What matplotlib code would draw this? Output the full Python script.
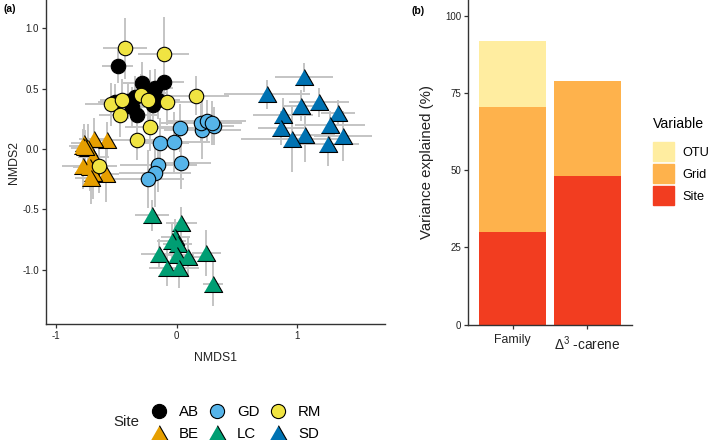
import matplotlib
matplotlib.use('Agg')
import matplotlib.pyplot as plt
from matplotlib.lines import Line2D
from matplotlib.patches import Patch

plt.rcParams['font.family'] = ['Liberation Sans', 'DejaVu Sans']
plt.rcParams['mathtext.fontset'] = 'custom'
plt.rcParams['mathtext.rm'] = 'Liberation Sans'

# panel a - NMDS scores with SE bars, one group of lists per site
ab_x = [-0.488, -0.284, -0.106, -0.178, -0.51, -0.372, -0.325, -0.198, -0.151, -0.344, -0.22, -0.40]
ab_y = [0.686, 0.545, 0.556, 0.504, 0.39, 0.351, 0.282, 0.365, 0.407, 0.434, 0.465, 0.40]
ab_xerr = [0.13, 0.16, 0.17, 0.15, 0.14, 0.14, 0.16, 0.17, 0.18, 0.14, 0.15, 0.13]
ab_yerr = [0.14, 0.18, 0.17, 0.16, 0.15, 0.16, 0.15, 0.17, 0.16, 0.17, 0.19, 0.15]

be_x = [-0.574, -0.682, -0.765, -0.773, -0.737, -0.69, -0.778, -0.718, -0.585, -0.695, -0.712, -0.76]
be_y = [0.075, 0.085, 0.047, 0.025, 0.01, -0.064, -0.139, -0.147, -0.207, -0.197, -0.243, 0.019]
be_xerr = [0.10, 0.13, 0.11, 0.12, 0.14, 0.13, 0.17, 0.14, 0.11, 0.15, 0.13, 0.10]
be_yerr = [0.15, 0.17, 0.16, 0.14, 0.20, 0.17, 0.19, 0.20, 0.23, 0.22, 0.21, 0.14]

gd_x = [0.027, -0.134, -0.023, 0.035, -0.151, -0.178, -0.239, 0.214, 0.2, 0.25, 0.311, 0.292]
gd_y = [0.174, 0.05, 0.058, -0.119, -0.135, -0.202, -0.246, 0.16, 0.213, 0.235, 0.191, 0.216]
gd_xerr = [0.24, 0.24, 0.30, 0.25, 0.32, 0.30, 0.30, 0.32, 0.33, 0.33, 0.17, 0.25]
gd_yerr = [0.20, 0.21, 0.25, 0.21, 0.22, 0.28, 0.24, 0.24, 0.16, 0.17, 0.16, 0.18]

lc_x = [-0.203, 0.04, -0.012, -0.04, 0.01, -0.143, 0.007, 0.098, 0.245, -0.076, 0.023, 0.303]
lc_y = [-0.55, -0.612, -0.728, -0.761, -0.788, -0.866, -0.88, -0.894, -0.863, -0.982, -0.985, -1.12]
lc_xerr = [0.14, 0.13, 0.12, 0.12, 0.12, 0.15, 0.14, 0.13, 0.12, 0.15, 0.16, 0.08]
lc_yerr = [0.13, 0.13, 0.15, 0.14, 0.14, 0.12, 0.14, 0.17, 0.19, 0.15, 0.17, 0.18]

rm_x = [-0.427, -0.106, 0.162, -0.543, -0.455, -0.466, -0.295, -0.234, -0.076, -0.22, -0.33, -0.646]
rm_y = [0.835, 0.788, 0.442, 0.37, 0.407, 0.28, 0.445, 0.41, 0.39, 0.185, 0.077, -0.14]
rm_xerr = [0.18, 0.21, 0.27, 0.22, 0.18, 0.18, 0.20, 0.20, 0.23, 0.21, 0.17, 0.15]
rm_yerr = [0.25, 0.31, 0.16, 0.18, 0.17, 0.18, 0.18, 0.17, 0.19, 0.20, 0.17, 0.22]

sd_x = [1.058, 0.751, 1.036, 1.185, 0.886, 1.343, 1.274, 0.867, 1.066, 0.959, 1.384, 1.257]
sd_y = [0.595, 0.456, 0.359, 0.388, 0.28, 0.301, 0.199, 0.177, 0.114, 0.08, 0.108, 0.039]
sd_xerr = [0.24, 0.36, 0.16, 0.25, 0.25, 0.14, 0.29, 0.19, 0.25, 0.42, 0.24, 0.26]
sd_yerr = [0.12, 0.12, 0.13, 0.12, 0.14, 0.11, 0.12, 0.14, 0.22, 0.27, 0.21, 0.18]

# panel b - stacked variance shares
response = ['Family', r'$\Delta^3$ -carene']
site_share = [30.0, 48.2]
grid_share = [40.5, 30.8]
otu_share = [21.5, 0.0]

tri = [(-1, -0.87), (1, -0.87), (0, 0.87)]
sites = [
    ('AB', ab_x, ab_y, ab_xerr, ab_yerr, 'o', '#000000'),
    ('BE', be_x, be_y, be_xerr, be_yerr, tri, '#E69F00'),
    ('GD', gd_x, gd_y, gd_xerr, gd_yerr, 'o', '#56B4E9'),
    ('LC', lc_x, lc_y, lc_xerr, lc_yerr, tri, '#009E73'),
    ('RM', rm_x, rm_y, rm_xerr, rm_yerr, 'o', '#F0E442'),
    ('SD', sd_x, sd_y, sd_xerr, sd_yerr, tri, '#0072B2'),
]


def marker_size(m):
    return 10.4 if m == 'o' else 13.2


W, H = 709, 440
fig = plt.figure(figsize=(W / 100, H / 100), dpi=100)
ax = fig.add_axes([46 / W, (H - 324) / H, (385 - 46) / W, 324 / H])
for name, x, y, xe, ye, m, col in sites:
    ax.errorbar(x, y, xerr=xe, yerr=ye, fmt='none', ecolor='#c4c4c4', elinewidth=1.4, zorder=1)
for name, x, y, xe, ye, m, col in sites:
    ax.plot(x, y, ls='none', marker=m, ms=marker_size(m), mfc=col, mec='black', mew=0.8, zorder=3)

ax.set_xlim(-1.083, 1.73)
ax.set_ylim(-1.45, 1.236)
ax.set_xticks([-1, 0, 1])
ax.set_yticks([-1.0, -0.5, 0.0, 0.5, 1.0])
ax.set_yticklabels(['-1.0', '-0.5', '0.0', '0.5', '1.0'])
ax.set_xticklabels(['-1', '0', '1'])
ax.set_xlabel('NMDS1', fontsize=8.8, color='#222222', labelpad=8)
ax.set_ylabel('NMDS2', fontsize=8.8, color='#222222', labelpad=2)

ax2 = fig.add_axes([468 / W, (H - 324.5) / H, (632 - 468) / W, 324.5 / H])
pos = [1, 2]
ax2.bar(pos, site_share, width=0.9, color='#F23D20', label='Site')
ax2.bar(pos, grid_share, width=0.9, bottom=site_share, color='#FEB24C', label='Grid')
tops = [a + b for a, b in zip(site_share, grid_share)]
ax2.bar(pos, otu_share, width=0.9, bottom=tops, color='#FFEDA0', label='OTU')
ax2.set_xlim(0.4, 2.6)
ax2.set_ylim(0, 105.2)
ax2.set_xticks(pos)
ax2.set_xticklabels(response, fontsize=8.8, color='#222222')
ax2.get_xticklabels()[1].set_fontsize(9.8)
ax2.set_yticks([0, 25, 50, 75, 100])
ax2.set_ylabel('Variance explained (%)', fontsize=10.8, color='#222222', labelpad=8)

for a in (ax, ax2):
    a.spines['top'].set_visible(False)
    a.spines['right'].set_visible(False)
    a.spines['left'].set_color('#333333')
    a.spines['bottom'].set_color('#333333')
    a.spines['left'].set_linewidth(1.0)
    a.spines['bottom'].set_linewidth(1.0)
    a.tick_params(length=3, width=0.9, color='#333333', pad=2)
    a.tick_params(axis='y', labelsize=7, labelcolor='#222222')
ax.tick_params(axis='x', labelsize=7, labelcolor='#222222')
ax2.tick_params(axis='x', pad=4)

fig.text(3 / W, (H - 9) / H, '(a)', fontsize=7.5, fontweight='bold', va='center')
fig.text(412 / W, (H - 11) / H, '(b)', fontsize=7.5, fontweight='bold', va='center')

# site legend, filled column by column like the original
handles = [Line2D([], [], ls='none', marker=m, ms=marker_size(m) * 0.98, mfc=col, mec='black', mew=0.8)
           for name, x, y, xe, ye, m, col in sites]
labels = [s[0] for s in sites]
fig.legend(handles, labels, ncol=3, frameon=False, fontsize=10.8,
           loc='center left', bbox_to_anchor=(149 / W, (H - 423) / H), borderaxespad=0, borderpad=0,
           handlelength=1.3, handletextpad=0.7, columnspacing=0.55, labelspacing=0.55)
fig.text(113 / W, (H - 422) / H, 'Site', fontsize=10.8, color='#222222', va='center')

# variable legend
b_handles = [Patch(color='#FFEDA0'), Patch(color='#FEB24C'), Patch(color='#F23D20')]
leg = fig.legend(b_handles, ['OTU', 'Grid', 'Site'], frameon=False, fontsize=9.2, title='Variable',
                 title_fontsize=10.2, loc='upper left', bbox_to_anchor=(653 / W, (H - 117) / H),
                 borderaxespad=0, borderpad=0, handlelength=1.65, handleheight=1.95,
                 handletextpad=0.65, labelspacing=0.2)
leg._legend_box.align = 'left'
leg._legend_box.sep = 8

fig.savefig('out.png', dpi=100)
